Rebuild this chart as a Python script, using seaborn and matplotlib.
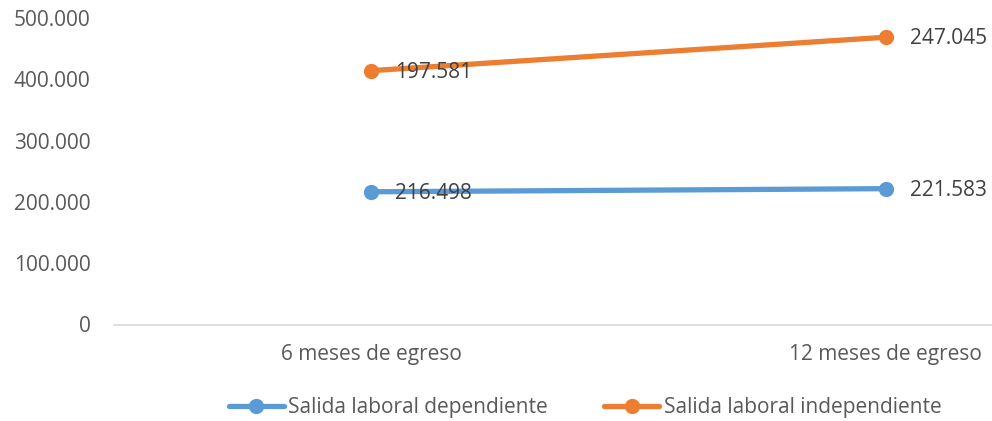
import matplotlib
matplotlib.use("Agg")
import matplotlib.pyplot as plt
import seaborn as sns
import pandas as pd
import numpy as np

categories = ["6 meses de egreso", "12 meses de egreso"]
dependiente = [216.498, 221.583]
independiente = [197.581, 247.045]
series_names = ["Salida laboral dependiente", "Salida laboral independiente"]
yticks = [0, 100, 200, 300, 400, 500]
ytick_labels = ["0", "100.000", "200.000", "300.000", "400.000", "500.000"]

colors = ["#5B9BD5", "#ED7D31"]
text_color = "#595959"
fs = 15

sns.set_theme(style="white")
plt.rcParams["font.family"] = ["Open Sans", "DejaVu Sans"]

# stacked line chart: second series plotted on top of first
stack_dep = np.array(dependiente)
stack_ind = stack_dep + np.array(independiente)

rows = []
for i, c in enumerate(categories):
    rows.append({"x": i, "cat": c, "serie": series_names[0], "y": stack_dep[i], "label": dependiente[i]})
    rows.append({"x": i, "cat": c, "serie": series_names[1], "y": stack_ind[i], "label": independiente[i]})
df = pd.DataFrame(rows)

fig = plt.figure(figsize=(9.92, 4.21), dpi=100)
ax = fig.add_axes([114/992, 1 - 324.5/421, (992-114)/992, (324.5-18)/421])

sns.lineplot(data=df, x="x", y="y", hue="serie", hue_order=series_names,
             palette=colors, marker="o", markersize=11, markeredgewidth=0,
             linewidth=3.8, ax=ax, legend=True)

for _, r in df.iterrows():
    ax.annotate(f"{r['label']:.3f}", (r["x"], r["y"]), xytext=(17, -1),
                textcoords="offset points", ha="left", va="center",
                fontsize=fs, color="#404040")

ax.set_xlim(-0.499, 1.206)
ax.set_ylim(0, 500)
ax.set_yticks(yticks)
ax.set_yticklabels(ytick_labels)
ax.set_xticks(range(len(categories)))
ax.set_xticklabels(categories)
ax.tick_params(axis="both", length=0, labelsize=fs, colors=text_color)
ax.tick_params(axis="x", pad=14)
ax.tick_params(axis="y", pad=17)
ax.set_xlabel("")
ax.set_ylabel("")
for s in ["top", "right", "left"]:
    ax.spines[s].set_visible(False)
ax.spines["bottom"].set_color("#D9D9D9")
ax.spines["bottom"].set_linewidth(1.2)
ax.grid(False)

handles, labels = ax.get_legend_handles_labels()
ax.legend(handles, labels, loc="center", bbox_to_anchor=((585-114)/878, (324.5-408)/306.5),
          ncol=2, frameon=False, fontsize=fs, labelcolor=text_color,
          handlelength=2.65, handletextpad=0.2, columnspacing=2.7)

fig.savefig("out.png", dpi=100)
